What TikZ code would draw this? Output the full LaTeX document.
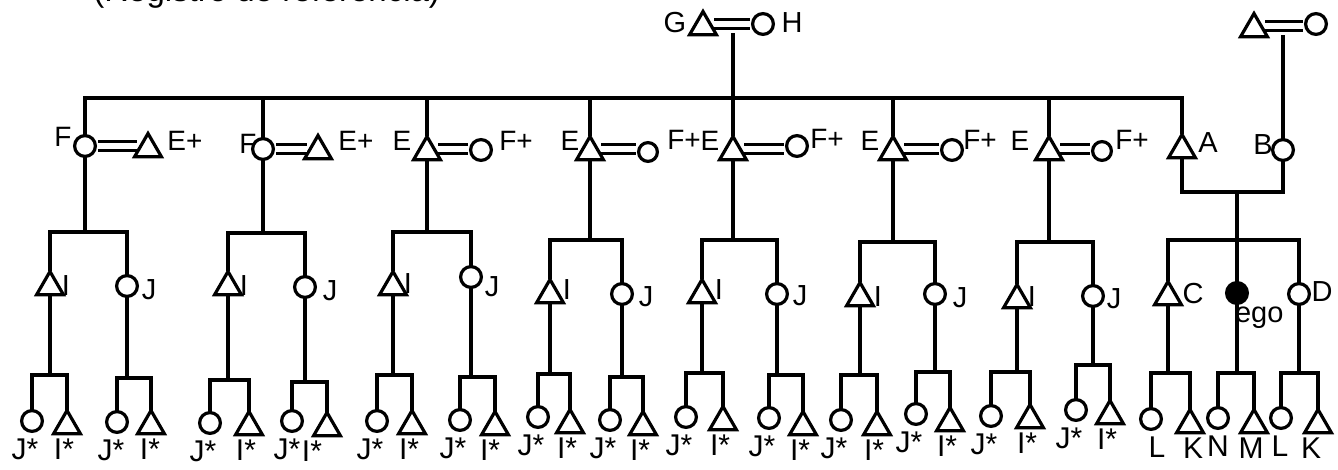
\documentclass[tikz,border=0pt]{standalone}
\usepackage{fontspec}
\setmainfont{Liberation Sans}
\usetikzlibrary{shapes.geometric}
\begin{document}
\begin{tikzpicture}[x=0.5pt,y=-0.5pt,
  kin/.style={line width=1.6pt},
  marry/.style={double, double distance=2.6pt, line width=1.5pt, shorten <=1.2pt, shorten >=1.2pt},
  male/.style={regular polygon, regular polygon sides=3, draw, line width=1.6pt, minimum size=15.5pt, inner sep=0pt, outer sep=0pt},
  female/.style={circle, draw, line width=1.6pt, minimum size=10.4pt, inner sep=0pt, outer sep=0pt},
  fsmall/.style={female, minimum size=9.4pt},
  egonode/.style={female, fill=black},
  lbl/.style={inner sep=0pt, outer sep=0pt, font=\fontsize{14.5}{16}\selectfont},
  lbltop/.style={lbl, font=\fontsize{14}{16}\selectfont},
  lblbot/.style={lbl, font=\fontsize{15}{17}\selectfont},
]
\useasboundingbox (0,0) rectangle (1338,470);
\clip (0,0) rectangle (1338,470);

% title (cut at the top edge)
\node[font=\fontsize{16.5}{18}\selectfont, anchor=base west, inner sep=0pt] (title) at (93,2) {(Registro de referencia)};

% top couples
\node[lbl] (lG) at (675,23) {G};
\node[male] (G) at (703,27) {};
\node[female] (H) at (763,24) {};
\node[lbl] (lH) at (792,23) {H};
\draw[marry] ([yshift=1.5pt]G.east) -- ([yshift=1.5pt]G.east -| H.west);
\path ([yshift=1.5pt]G.east) -- ([yshift=1.5pt]G.east -| H.west) coordinate[midway] (gh);

\node[male] (P) at (1254,29) {};
\node[female] (Q) at (1316,24) {};
\draw[marry] ([yshift=1.5pt]P.east) -- ([yshift=1.5pt]P.east -| Q.west);
\path ([yshift=1.5pt]P.east) -- ([yshift=1.5pt]P.east -| Q.west) coordinate[midway] (pq);

% second generation
\node[female] (b1) at (85,146) {};
\node[male] (s1) at (148,149) {};
\node[lbltop] (lb1) at (63,137) {F};
\node[lbltop] (ls1) at (185,141) {E+};
\draw[marry] (b1.east) -- (b1.east -| s1.west);

\node[female] (b2) at (263,149) {};
\node[male] (s2) at (318,151) {};
\node[lbltop] (lb2) at (248,144) {F};
\node[lbltop] (ls2) at (356,141) {E+};
\draw[marry] (b2.east) -- (b2.east -| s2.west);

\node[male] (b3) at (427,152) {};
\node[female] (s3) at (481,150) {};
\node[lbltop] (lb3) at (402,141) {E};
\node[lbltop] (ls3) at (516,141) {F+};
\draw[marry] ([yshift=1.5pt]b3.east) -- ([yshift=1.5pt]b3.east -| s3.west);

\node[male] (b4) at (590,152) {};
\node[fsmall] (s4) at (648,152) {};
\node[lbltop] (lb4) at (570,141) {E};
\node[lbltop] (ls4) at (684,140) {F+};
\draw[marry] ([yshift=1.5pt]b4.east) -- ([yshift=1.5pt]b4.east -| s4.west);

\node[male] (b5) at (733,152) {};
\node[female] (s5) at (797,146) {};
\node[lbltop] (lb5) at (710,141) {E};
\node[lbltop] (ls5) at (827,139) {F+};
\draw[marry] ([yshift=1.5pt]b5.east) -- ([yshift=1.5pt]b5.east -| s5.west);

\node[male] (b6) at (893,152) {};
\node[female] (s6) at (952,150) {};
\node[lbltop] (lb6) at (870,141) {E};
\node[lbltop] (ls6) at (980,140) {F+};
\draw[marry] ([yshift=1.5pt]b6.east) -- ([yshift=1.5pt]b6.east -| s6.west);

\node[male] (b7) at (1049,152) {};
\node[fsmall] (s7) at (1102,151) {};
\node[lbltop] (lb7) at (1020,141) {E};
\node[lbltop] (ls7) at (1132,140) {F+};
\draw[marry] ([yshift=1.5pt]b7.east) -- ([yshift=1.5pt]b7.east -| s7.west);

\node[male] (A) at (1182,150) {};
\node[lbl] (lA) at (1208,143) {A};
\node[female] (B) at (1283,150) {};
\node[lbl] (lB) at (1263,145) {B};

% sibling line of the second generation
\coordinate (topline) at (0,98);
\draw[kin] (b1.north) -- (b1.north |- topline) -| (A.north);
\foreach \n in {b2,b3,b4,b6,b7} \draw[kin] (\n.north) -- (\n.north |- topline);
\draw[kin, shorten >=4.5pt] (b5.north) -- (b5.north |- gh);
\draw[kin, shorten >=4.5pt] (B.north) -- (B.north |- pq);

% A = B descent
\coordinate (abl) at (0,192);
\draw[kin] (A.south) -- (A.south |- abl) -| (B.south);

% third generation
\foreach \i/\tx/\ty/\cx/\cy/\sy/\ix/\iy/\jx/\jy in {
  1/50/287/127/286/232/66/286/149/290,
  2/228/287/305/287/233/244/286/330/291,
  3/393/287/471/277/232/408/284/492/287,
  4/550/295/622/294/240/567/290/646/297,
  5/702/295/777/294/240/719/290/800/296,
  6/860/298/935/294/242/878/297/960/298,
  7/1017/300/1093/296/242/1032/297/1114/299} {
  \node[male] (m\i) at (\tx,\ty) {};
  \node[female] (w\i) at (\cx,\cy) {};
  \node[lbl] (lm\i) at (\ix,\iy) {I};
  \node[lbl] (lw\i) at (\jx,\jy) {J};
  \coordinate (sib\i) at (0,\sy);
  \draw[kin] (m\i.north) -- (m\i.north |- sib\i) -| (w\i.north);
  \draw[kin] (b\i.south) -- (b\i.south |- sib\i);
}

\node[male] (C) at (1168,297) {};
\node[egonode] (ego) at (1237,293) {};
\node[female] (D) at (1299,294) {};
\node[lbl] (lC) at (1193,294) {C};
\node[lbl, anchor=base west] (lego) at (1235,322) {ego};
\node[lbl] (lD) at (1322,292) {D};
\coordinate (sib8) at (0,240);
\draw[kin] (C.north) -- (C.north |- sib8) -| (D.north);
\draw[kin] (ego.north) -- (ego.north |- abl);

% fourth generation
\foreach \pp/\ly/\dx/\dy/\sx/\sy/\ta/\oj/\tb/\oi in {
  m1/375/32/421/67/426/J*/-7/I*/-3,
  w1/378/117/422/151/426/J*/-6/I*/-1,
  m2/380/210/423/249/427/J*/-7/I*/-3,
  w2/382/292/421/327/428/J*/-5/I*/-15,
  m3/375/377/421/412/426/J*/-7/I*/-3,
  w3/377/460/420/495/427/J*/-7/I*/-5,
  m4/374/538/417/570/425/J*/-7/I*/-3,
  w4/377/610/420/643/427/J*/-7/I*/-3,
  m5/373/686/417/723/422/J*/-7/I*/-3,
  w5/375/769/418/803/427/J*/-7/I*/-3,
  m6/375/841/420/877/427/J*/-7/I*/-3,
  w6/372/916/414/950/423/J*/-7/I*/-3,
  m7/372/991/416/1030/420/J*/-7/I*/-3,
  w7/365/1076/410/1110/416/J*/-7/I*/-3,
  C/373/1151/419/1190/425/L/6/K/3,
  ego/373/1218/418/1254/425/N/0/M/-3,
  D/373/1281/418/1318/425/L/-1/K/-7} {
  \node[female] (\pp-d) at (\dx,\dy) {};
  \node[male] (\pp-s) at (\sx,\sy) {};
  \coordinate (\pp-l) at (0,\ly);
  \draw[kin] (\pp-d.north) -- (\pp-d.north |- \pp-l) -| (\pp-s.north);
  \draw[kin] (\pp.south) -- (\pp.south |- \pp-l);
  \node[lblbot] (\pp-dl) at ({\dx+\oj},{\dy+28}) {\ta};
  \node[lblbot] (\pp-sl) at ({\sx+\oi},{\sy+23}) {\tb};
}
\end{tikzpicture}
\end{document}
